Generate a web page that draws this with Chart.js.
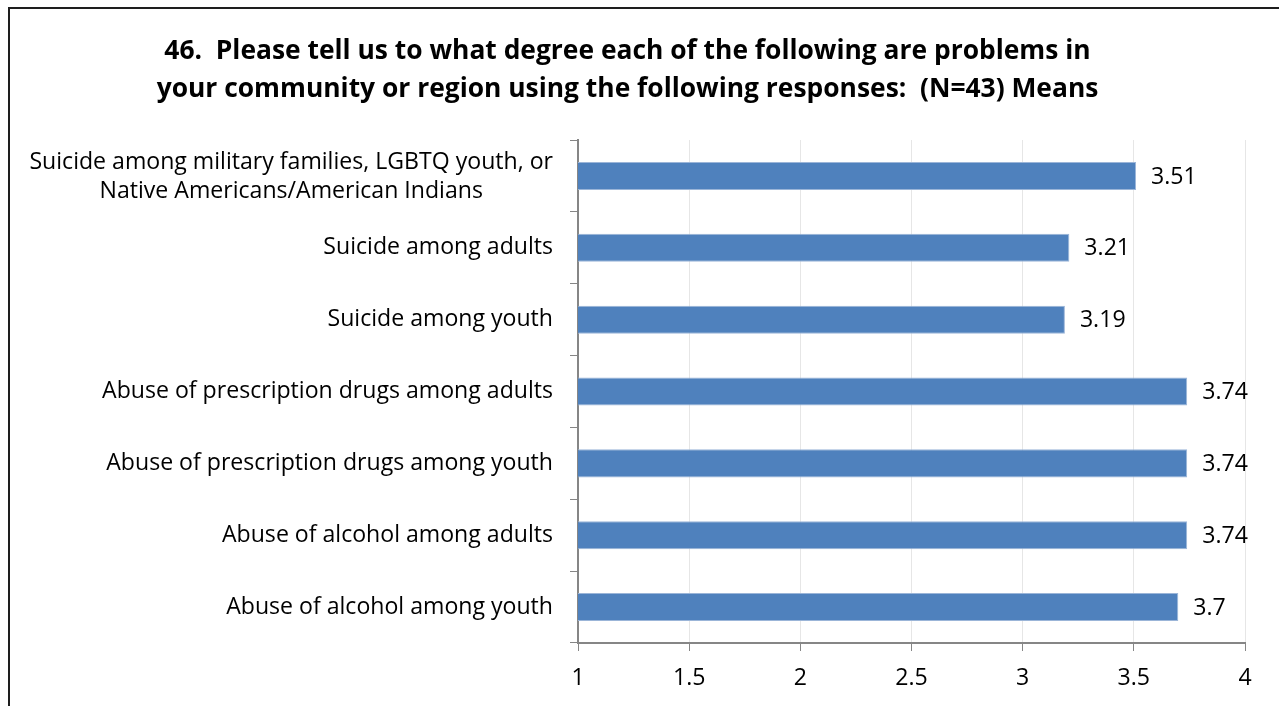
<!DOCTYPE html>
<html>
<head>
<meta charset="utf-8">
<script src="https://cdn.jsdelivr.net/npm/chart.js@4.4.0/dist/chart.umd.min.js"></script>
<style>
html, body { margin: 0; padding: 0; background: #fff; }
#wrap { position: absolute; left: 0; top: 0; width: 1279px; height: 706px; }
#frame { position: absolute; left: 8px; top: 7px; width: 1400px; height: 800px; border: 2px solid #1e1e1e; pointer-events: none; }
</style>
</head>
<body>
<div id="wrap"><canvas id="chartMeans" width="1279" height="706"></canvas></div>
<div id="frame"></div>
<script>
const categories = [
    ['Suicide among military families, LGBTQ youth, or', 'Native Americans/American Indians'],
    'Suicide among adults',
    'Suicide among youth',
    'Abuse of prescription drugs among adults',
    'Abuse of prescription drugs among youth',
    'Abuse of alcohol among adults',
    'Abuse of alcohol among youth'
]
const means = [3.51, 3.21, 3.19, 3.74, 3.74, 3.74, 3.7]
const titleLines = [
    '46.  Please tell us to what degree each of the following are problems in',
    'your community or region using the following responses:  (N=43) Means'
]
const xMin = 1, xMax = 4, xStep = 0.5

const fontFamily = '"Open Sans", sans-serif'
const labelSize = 23.1

// value labels at the end of each bar
const valueLabels = {
    id: 'valueLabels',
    afterDatasetsDraw(chart) {
        const ctx = chart.ctx;
        const meta = chart.getDatasetMeta(0);
        ctx.save();
        ctx.font = labelSize + 'px ' + fontFamily;
        ctx.fillStyle = '#000';
        ctx.textAlign = 'left';
        ctx.textBaseline = 'middle';
        meta.data.forEach((bar, i) => {
            ctx.fillText(String(means[i]), bar.x + 15, bar.y + 1);
        });
        ctx.restore();
    }
};

// the two-line first category is centred line by line, like the original
const centredLabel = {
    id: 'centredLabel',
    afterDraw(chart) {
        const y = chart.scales.y;
        const ctx = chart.ctx;
        const lines = categories[0];
        ctx.save();
        ctx.font = labelSize + 'px ' + fontFamily;
        ctx.fillStyle = '#000';
        ctx.textAlign = 'center';
        ctx.textBaseline = 'middle';
        const widest = Math.max(...lines.map(l => ctx.measureText(l).width));
        const cx = y.right - 25 - widest / 2;
        const cy = y.getPixelForTick(0);
        ctx.fillText(lines[0], cx, cy - 14);
        ctx.fillText(lines[1], cx, cy + 15);
        ctx.restore();
    }
};

var ctxMeans = document.getElementById('chartMeans').getContext('2d');
var chartMeans = new Chart(ctxMeans, {
    type: 'bar',
    data: {
        labels: categories,
        datasets: [{
            data: means,
            backgroundColor: '#4f81bd',
            borderColor: '#9bb5d8',
            borderWidth: 1,
            borderSkipped: false,
            barPercentage: 0.39,
            categoryPercentage: 1
        }]
    },
    options: {
        indexAxis: 'y',
        responsive: false,
        animation: false,
        layout: { padding: { left: 10, right: 34, top: 0, bottom: 0 } },
        plugins: {
            legend: { display: false },
            tooltip: { enabled: false },
            title: {
                display: true,
                text: titleLines,
                color: '#000',
                font: { family: fontFamily, size: 26.4, weight: 'bold', lineHeight: 1.44 },
                padding: { top: 32, bottom: 32 }
            }
        },
        scales: {
            x: {
                min: xMin,
                max: xMax,
                afterFit: s => { s.height = 63; },
                ticks: {
                    stepSize: xStep,
                    color: '#000',
                    padding: 14,
                    font: { family: fontFamily, size: labelSize },
                    callback: v => String(v)
                },
                grid: { color: '#e6e6e6', tickColor: '#868686', tickLength: 8, drawTicks: true },
                border: { color: '#868686', width: 2 }
            },
            y: {
                afterFit: s => { s.width = 568; },
                ticks: {
                    color: c => c.index === 0 ? 'rgba(0,0,0,0)' : '#000',
                    padding: 17,
                    font: { family: fontFamily, size: labelSize }
                },
                grid: { offset: true, drawOnChartArea: false, tickColor: '#868686', tickLength: 8 },
                border: { color: '#868686', width: 2 }
            }
        }
    },
    plugins: [valueLabels, centredLabel]
});
</script>
</body>
</html>
